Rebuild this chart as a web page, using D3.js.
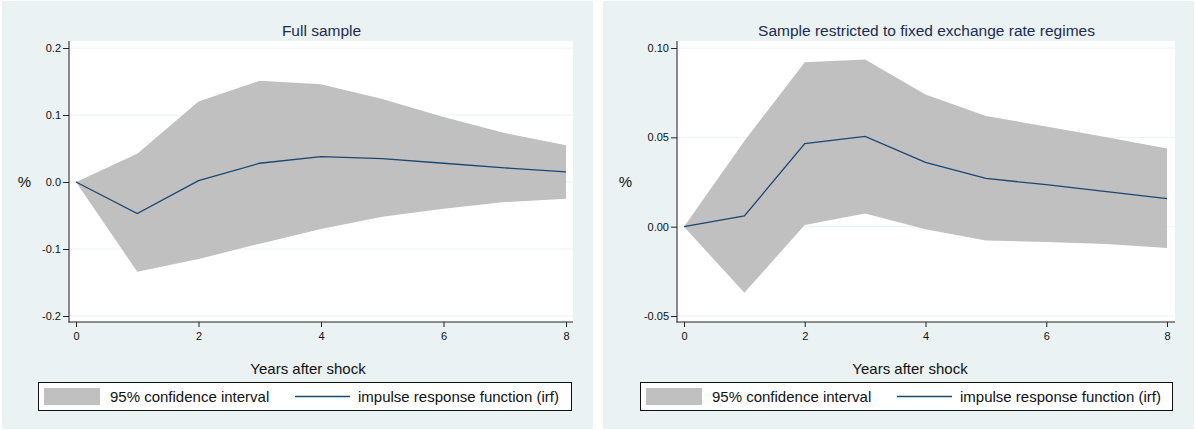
<!DOCTYPE html>
<html>
<head>
<meta charset="utf-8">
<script src="https://cdn.jsdelivr.net/npm/d3@7"></script>
<style>
  html, body { margin: 0; padding: 0; background: #ffffff; }
  svg { display: block; }
  text { font-family: "Liberation Sans", Arial, Helvetica, sans-serif; }
</style>
</head>
<body>
<svg id="chart" width="1196" height="430"></svg>
<script>
// ---------------- data ----------------
const years = [0, 1, 2, 3, 4, 5, 6, 7, 8];
const xTicks = [0, 2, 4, 6, 8];

const fullIrf   = [0, -0.047, 0.002, 0.028, 0.038, 0.035, 0.028, 0.021, 0.015];
const fullUpper = [0, 0.042, 0.120, 0.151, 0.146, 0.124, 0.097, 0.073, 0.055];
const fullLower = [0, -0.134, -0.115, -0.092, -0.070, -0.052, -0.040, -0.030, -0.025];
const fullYTicks = [-0.2, -0.1, 0.0, 0.1, 0.2];
const fullYLabels = ["-0.2", "-0.1", "0.0", "0.1", "0.2"];

const fixedIrf   = [0, 0.006, 0.0465, 0.0505, 0.036, 0.027, 0.0235, 0.0196, 0.0157];
const fixedUpper = [0, 0.048, 0.092, 0.0935, 0.074, 0.062, 0.056, 0.050, 0.0437];
const fixedLower = [0, -0.037, 0.001, 0.0073, -0.0015, -0.0078, -0.0086, -0.0097, -0.012];
const fixedYTicks = [-0.05, 0.0, 0.05, 0.10];
const fixedYLabels = ["-0.05", "0.00", "0.05", "0.10"];

const titles = ["Full sample", "Sample restricted to fixed exchange rate regimes"];
const xTitle = "Years after shock";
const yTitle = "%";
const legendLabels = ["95% confidence interval", "impulse response function (irf)"];

// ---------------- styles ----------------
const BG = "#eaf2f3";
const CI = "#c0c0c0";
const LINE = "#1a476f";
const TITLE = "#1e2b50";

const panels = [
  { x0: 2, x1: 593, plotL: 70, plotR: 573, axisX: 69, xr: [76, 566],
    yDomain: [-0.2, 0.2], ticks: fullYTicks, labels: fullYLabels,
    irf: fullIrf, up: fullUpper, lo: fullLower, title: titles[0],
    legL: 38, legR: 571, labelsLeft: 43 },
  { x0: 603, x1: 1194, plotL: 678, plotR: 1175, axisX: 677, xr: [684, 1167],
    yDomain: [-0.05, 0.10], ticks: fixedYTicks, labels: fixedYLabels,
    irf: fixedIrf, up: fixedUpper, lo: fixedLower, title: titles[1],
    legL: 640, legR: 1172, labelsLeft: 645 }
];

const svg = d3.select("#chart");
const plotTop = 41, plotBot = 322;

panels.forEach(p => {
  const g = svg.append("g");
  // panel background
  g.append("rect").attr("x", p.x0).attr("y", 1).attr("width", p.x1 - p.x0).attr("height", 428).attr("fill", BG);
  // plot region
  g.append("rect").attr("x", p.plotL).attr("y", plotTop).attr("width", p.plotR - p.plotL).attr("height", plotBot - plotTop).attr("fill", "#ffffff");

  const x = d3.scaleLinear().domain([0, 8]).range(p.xr);
  const y = d3.scaleLinear().domain(p.yDomain).range([316, 48]);

  // gridlines
  g.selectAll(".grid").data(p.ticks).enter().append("line")
    .attr("x1", p.plotL).attr("x2", p.plotR)
    .attr("y1", d => y(d)).attr("y2", d => y(d))
    .attr("stroke", BG).attr("stroke-width", 1);

  // confidence band
  const rows = years.map((t, i) => ({ t, lo: p.lo[i], up: p.up[i], irf: p.irf[i] }));
  const area = d3.area().x(d => x(d.t)).y0(d => y(d.lo)).y1(d => y(d.up));
  g.append("path").datum(rows).attr("d", area).attr("fill", CI);

  // irf line
  const line = d3.line().x(d => x(d.t)).y(d => y(d.irf));
  g.append("path").datum(rows).attr("d", line).attr("fill", "none").attr("stroke", LINE).attr("stroke-width", 1.3);

  // y axis
  const yAxis = d3.axisLeft(y).tickValues(p.ticks).tickFormat((d, i) => p.labels[i]).tickSize(6).tickSizeOuter(0).tickPadding(2);
  const ya = g.append("g").attr("transform", `translate(${p.axisX},0)`).call(yAxis);
  ya.select(".domain").remove();
  ya.append("line").attr("x1", 0).attr("x2", 0).attr("y1", plotTop).attr("y2", plotBot + 0.5).attr("stroke", "#222").attr("stroke-width", 1);
  ya.selectAll(".tick line").attr("stroke", "#222");
  ya.selectAll(".tick text").attr("font-size", 11).attr("fill", "#111").attr("font-family", "Liberation Sans, Arial, sans-serif");

  // x axis
  const xAxis = d3.axisBottom(x).tickValues(xTicks).tickFormat(d3.format("d")).tickSize(5).tickSizeOuter(0).tickPadding(5);
  const xa = g.append("g").attr("transform", `translate(0,${plotBot})`).call(xAxis);
  xa.select(".domain").remove();
  xa.append("line").attr("x1", p.axisX - 0.5).attr("x2", p.plotR).attr("y1", 0).attr("y2", 0).attr("stroke", "#222").attr("stroke-width", 1);
  xa.selectAll(".tick line").attr("stroke", "#222");
  xa.selectAll(".tick text").attr("font-size", 11).attr("fill", "#111").attr("font-family", "Liberation Sans, Arial, sans-serif");

  // title
  g.append("text").attr("x", (p.plotL + p.plotR) / 2).attr("y", 36).attr("text-anchor", "middle")
    .attr("font-size", 15.5).attr("fill", TITLE).text(p.title);

  // y title
  g.append("text").attr("x", p.x0 + 22.5).attr("y", (plotTop + plotBot) / 2).attr("text-anchor", "middle")
    .attr("dominant-baseline", "central").attr("font-size", 15).attr("fill", "#111").text(yTitle);

  // x title
  g.append("text").attr("x", (p.labelsLeft + p.plotR) / 2).attr("y", 374).attr("text-anchor", "middle")
    .attr("font-size", 15).attr("fill", "#111").text(xTitle);

  // legend
  const lg = g.append("g");
  lg.append("rect").attr("x", p.legL + 0.5).attr("y", 382.5).attr("width", p.legR - p.legL).attr("height", 28)
    .attr("fill", "#ffffff").attr("stroke", "#111").attr("stroke-width", 1);
  lg.append("rect").attr("x", p.legL + 6).attr("y", 388).attr("width", 56).attr("height", 17).attr("fill", CI);
  lg.append("text").attr("x", p.legL + 72).attr("y", 402).attr("font-size", 15).attr("fill", "#111").text(legendLabels[0]);
  lg.append("line").attr("x1", p.legL + 257).attr("x2", p.legL + 312).attr("y1", 396.5).attr("y2", 396.5)
    .attr("stroke", LINE).attr("stroke-width", 1.3);
  lg.append("text").attr("x", p.legL + 320).attr("y", 402).attr("font-size", 15).attr("fill", "#111").text(legendLabels[1]);
});
</script>
</body>
</html>
